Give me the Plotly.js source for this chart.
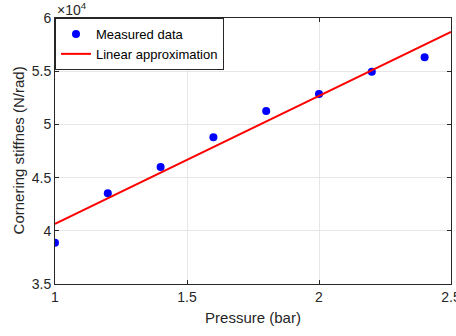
<!DOCTYPE html>
<html>
<head>
<meta charset="utf-8">
<script src="https://cdn.plot.ly/plotly-3.0.1.min.js"></script>
<style>html,body{margin:0;padding:0;background:#fff;}#chart{width:456px;height:336px;}</style>
</head>
<body>
<div id="chart"></div>
<script>
// Data
const pressure = [1.0, 1.2, 1.4, 1.6, 1.8, 2.0, 2.2, 2.4];
const stiffness = [38880, 43520, 46000, 48800, 51260, 52860, 54950, 56300];
const fitX = [1.0, 2.5];
const fitY = [40650, 58690];
const xTickVals = [1, 1.5, 2, 2.5];
const xTickText = ['1', '1.5', '2', '2.5'];
const yTickVals = [35000, 40000, 45000, 50000, 55000, 60000];
const yTickText = ['3.5', '4', '4.5', '5', '5.5', '6'];

const axisColor = '#262626';
const traces = [
  {x: pressure, y: stiffness, mode: 'markers', type: 'scatter', name: 'Measured data',
   marker: {color: '#0000ff', size: 8}},
  {x: fitX, y: fitY, mode: 'lines', type: 'scatter', name: 'Linear approximation',
   line: {color: '#ff0000', width: 2}}
];
const layout = {
  width: 456, height: 336,
  margin: {l: 55, r: 5, t: 18, b: 52},
  paper_bgcolor: '#fff', plot_bgcolor: '#fff',
  font: {family: 'Liberation Sans, Arial, sans-serif', color: axisColor, size: 14},
  showlegend: true,
  legend: {x: 0, y: 1, xanchor: 'left', yanchor: 'top', bgcolor: '#fff',
    bordercolor: axisColor, borderwidth: 1, font: {size: 13, color: '#000'},
    tracegroupgap: 0, itemwidth: 30},
  xaxis: {range: [1, 2.5], tickvals: xTickVals, ticktext: xTickText,
    ticklabeloverflow: 'allow',
    showgrid: true, gridcolor: '#e6e6e6', gridwidth: 1,
    showline: true, linecolor: axisColor, linewidth: 1, mirror: 'ticks',
    ticks: 'inside', ticklen: 4, tickcolor: axisColor, zeroline: false,
    title: {text: 'Pressure (bar)', font: {size: 15}, standoff: 8}},
  yaxis: {range: [35000, 60000], tickvals: yTickVals, ticktext: yTickText,
    showgrid: true, gridcolor: '#e6e6e6', gridwidth: 1,
    showline: true, linecolor: axisColor, linewidth: 1, mirror: 'ticks',
    ticks: 'inside', ticklen: 4, tickcolor: axisColor, zeroline: false},
  annotations: [
    {xref: 'paper', yref: 'paper', x: 0, y: 1, xanchor: 'left', yanchor: 'bottom',
     text: '×10<sup>4</sup>', showarrow: false, font: {size: 14, color: axisColor}, yshift: -2},
    {xref: 'paper', yref: 'paper', x: -0.0922, y: 0.504, xanchor: 'center', yanchor: 'middle',
     text: 'Cornering stiffnes (N/rad)', textangle: -90, showarrow: false,
     font: {size: 15, color: axisColor}}
  ]
};
Plotly.newPlot('chart', traces, layout, {staticPlot: true, displayModeBar: false});
</script>
</body>
</html>
